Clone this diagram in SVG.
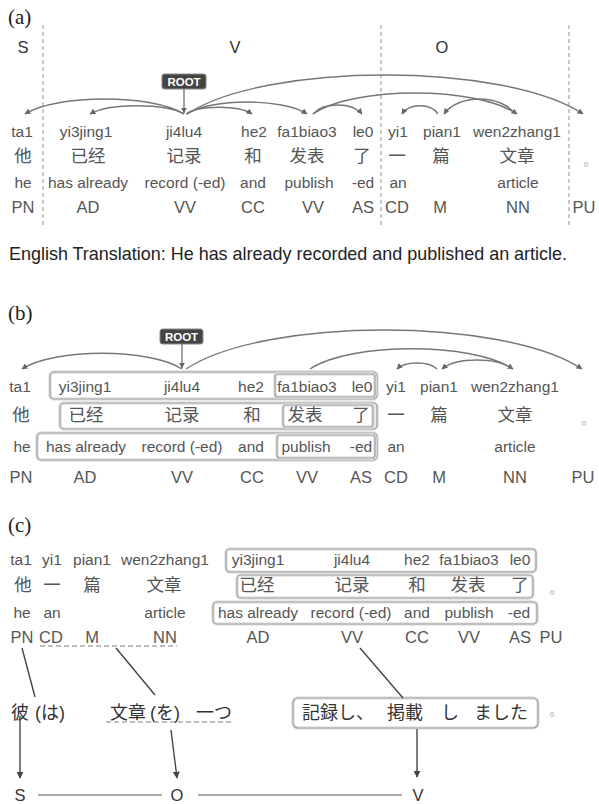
<svg xmlns="http://www.w3.org/2000/svg" width="599" height="804" viewBox="0 0 599 804">
  <style>
    text { font-family: "Liberation Sans", Arial, sans-serif; fill: #555; text-anchor: middle; }
    .cap { font-family: "Liberation Serif", "Times New Roman", serif; font-size: 21px; fill: #222; text-anchor: start; }
    .py { font-size: 15.5px; }
    .zh { font-family: "Noto Sans CJK SC", sans-serif; font-size: 17.5px; }
    .en { font-size: 15.5px; }
    .pos { font-size: 16.5px; }
    .svo { font-size: 16.5px; fill: #333; }
    .jp { font-family: "Noto Sans CJK JP", sans-serif; font-size: 18px; fill: #333; text-anchor: start; }
    .jpl { font-family: "Liberation Sans", "Noto Sans CJK JP", sans-serif; font-size: 18px; fill: #333; text-anchor: start; }
    .dot { font-family: "Noto Sans CJK SC", sans-serif; font-size: 13px; fill: #aaa; text-anchor: start; }
    .trans { font-size: 18.5px; fill: #222; text-anchor: start; }
    .root rect { fill: #444; stroke: #888; stroke-width: 1; }
    .root text { font-size: 11.5px; font-weight: bold; fill: #fff; }
    .arc { fill: none; stroke: #777; stroke-width: 1.4; marker-end: url(#head); }
    .sep { stroke: #bbb; stroke-width: 1.6; stroke-dasharray: 4 3; }
    .halo { fill: none; stroke: #e2e2e2; stroke-width: 3.5; }
    .box { fill: none; stroke: #a0a0a0; stroke-width: 1.2; }
    .link { stroke: #444; stroke-width: 1.4; fill: none; }
    .down { stroke: #444; stroke-width: 1.4; fill: none; marker-end: url(#head2); }
    .under { stroke: #aaa; stroke-width: 1.6; stroke-dasharray: 5 3; }
    .rule { stroke: #555; stroke-width: 1.2; }
  </style>
  <defs>
    <marker id="head" viewBox="0 0 10 10" refX="9" refY="5" markerWidth="6" markerHeight="6" markerUnits="userSpaceOnUse" orient="auto">
      <path d="M0,0 L10,5 L0,10 z" fill="#666"/>
    </marker>
    <marker id="head2" viewBox="0 0 10 10" refX="9" refY="5" markerWidth="7" markerHeight="7" markerUnits="userSpaceOnUse" orient="auto">
      <path d="M0,0 L10,5 L0,10 z" fill="#444"/>
    </marker>
  </defs>

  <!-- ============ (a) dependency parse with S / V / O spans ============ -->
  <g id="panel-a">
    <text class="cap" x="8" y="24">(a)</text>
    <g id="a-spans">
      <line class="sep" x1="43" y1="25" x2="43" y2="228"/>
      <line class="sep" x1="381" y1="25" x2="381" y2="228"/>
      <line class="sep" x1="569" y1="25" x2="569" y2="228"/>
      <text class="svo" x="23" y="53">S</text>
      <text class="svo" x="235" y="53">V</text>
      <text class="svo" x="442" y="53">O</text>
    </g>
    <g id="a-root" class="root">
      <rect x="162" y="74" width="44" height="15" rx="2.5"/>
      <text x="184" y="86">ROOT</text>
    </g>
    <g id="a-connectors">
      <path class="arc" d="M184,89 L184,113"/>
      <path class="arc" d="M184,114 C152,94 57,94 25,114"/>
      <path class="arc" d="M184,114 C165,103 109,103 90,114"/>
      <path class="arc" d="M186,114 C199,105 239,105 252,114"/>
      <path class="arc" d="M187,114 C211,98 283,98 307,114"/>
      <path class="arc" d="M187,114 C266,62 504,62 583,114"/>
      <path class="arc" d="M313,114 C323,102 352,102 362,114"/>
      <path class="arc" d="M313,114 C354,86 476,86 517,114"/>
      <path class="arc" d="M515,114 C501,94 458,94 444,114"/>
      <path class="arc" d="M438,114 C431,103 409,103 402,114"/>
    </g>
    <g id="a-ta1"><text class="py" x="22" y="137">ta1</text><text class="zh" x="23" y="162">他</text><text class="en" x="23" y="188">he</text><text class="pos" x="23" y="213">PN</text></g>
    <g id="a-yi3jing1"><text class="py" x="86" y="137">yi3jing1</text><text class="zh" x="88" y="162">已经</text><text class="en" x="88" y="188">has already</text><text class="pos" x="88" y="213">AD</text></g>
    <g id="a-ji4lu4"><text class="py" x="184" y="137">ji4lu4</text><text class="zh" x="184" y="162">记录</text><text class="en" x="185" y="188">record (-ed)</text><text class="pos" x="185" y="213">VV</text></g>
    <g id="a-he2"><text class="py" x="254" y="137">he2</text><text class="zh" x="253" y="162">和</text><text class="en" x="253" y="188">and</text><text class="pos" x="253" y="213">CC</text></g>
    <g id="a-fa1biao3"><text class="py" x="307" y="137">fa1biao3</text><text class="zh" x="307" y="162">发表</text><text class="en" x="309" y="188">publish</text><text class="pos" x="313" y="213">VV</text></g>
    <g id="a-le0"><text class="py" x="363" y="137">le0</text><text class="zh" x="362" y="162">了</text><text class="en" x="363" y="188">-ed</text><text class="pos" x="363" y="213">AS</text></g>
    <g id="a-yi1"><text class="py" x="398" y="137">yi1</text><text class="zh" x="397" y="162">一</text><text class="en" x="398" y="188">an</text><text class="pos" x="397" y="213">CD</text></g>
    <g id="a-pian1"><text class="py" x="442" y="137">pian1</text><text class="zh" x="441" y="162">篇</text><text class="pos" x="440" y="213">M</text></g>
    <g id="a-wen2zhang1"><text class="py" x="517" y="137">wen2zhang1</text><text class="zh" x="517" y="162">文章</text><text class="en" x="518" y="188">article</text><text class="pos" x="518" y="213">NN</text></g>
    <g id="a-period"><text class="dot" x="583.5" y="165">。</text><text class="pos" x="584" y="213">PU</text></g>
    <text class="trans" x="9" y="260" textLength="558" lengthAdjust="spacingAndGlyphs">English Translation: He has already recorded and published an article.</text>
  </g>

  <!-- ============ (b) same parse with the verb phrase grouped ============ -->
  <g id="panel-b">
    <text class="cap" x="8" y="320">(b)</text>
    <g id="b-groups">
      <rect class="halo" x="50" y="372" width="327" height="27" rx="4"/>
      <rect class="box" x="50" y="372" width="327" height="27" rx="4"/>
      <rect class="halo" x="275" y="374" width="100" height="23" rx="3"/>
      <rect class="box" x="275" y="374" width="100" height="23" rx="3"/>
      <rect class="halo" x="60" y="403" width="317" height="26" rx="4"/>
      <rect class="box" x="60" y="403" width="317" height="26" rx="4"/>
      <rect class="halo" x="283" y="405" width="90" height="22" rx="3"/>
      <rect class="box" x="283" y="405" width="90" height="22" rx="3"/>
      <rect class="halo" x="37" y="433" width="340" height="27" rx="4"/>
      <rect class="box" x="37" y="433" width="340" height="27" rx="4"/>
      <rect class="halo" x="277" y="435" width="98" height="23" rx="3"/>
      <rect class="box" x="277" y="435" width="98" height="23" rx="3"/>
    </g>
    <g id="b-root" class="root">
      <rect x="160" y="329" width="43" height="15" rx="2.5"/>
      <text x="181.5" y="341">ROOT</text>
    </g>
    <g id="b-connectors">
      <path class="arc" d="M182,344 L182,368"/>
      <path class="arc" d="M182,369 C150,348 54,348 22,369"/>
      <path class="arc" d="M186,369 C265,317 503,317 582,369"/>
      <path class="arc" d="M310,369 C351,342 472,342 513,369"/>
      <path class="arc" d="M512,369 C498,357 456,357 442,369"/>
      <path class="arc" d="M437,369 C429,361 405,361 397,369"/>
    </g>
    <g id="b-ta1"><text class="py" x="20" y="392">ta1</text><text class="zh" x="21" y="421">他</text><text class="en" x="22" y="452">he</text><text class="pos" x="21" y="483">PN</text></g>
    <g id="b-yi3jing1"><text class="py" x="85" y="392">yi3jing1</text><text class="zh" x="86" y="421">已经</text><text class="en" x="86" y="452">has already</text><text class="pos" x="85" y="483">AD</text></g>
    <g id="b-ji4lu4"><text class="py" x="182" y="392">ji4lu4</text><text class="zh" x="182" y="421">记录</text><text class="en" x="182" y="452">record (-ed)</text><text class="pos" x="182" y="483">VV</text></g>
    <g id="b-he2"><text class="py" x="251" y="392">he2</text><text class="zh" x="252" y="421">和</text><text class="en" x="251" y="452">and</text><text class="pos" x="252" y="483">CC</text></g>
    <g id="b-fa1biao3"><text class="py" x="307" y="392">fa1biao3</text><text class="zh" x="305" y="421">发表</text><text class="en" x="306" y="452">publish</text><text class="pos" x="307" y="483">VV</text></g>
    <g id="b-le0"><text class="py" x="362" y="392">le0</text><text class="zh" x="361" y="421">了</text><text class="en" x="361" y="452">-ed</text><text class="pos" x="361" y="483">AS</text></g>
    <g id="b-yi1"><text class="py" x="396" y="392">yi1</text><text class="zh" x="396" y="421">一</text><text class="en" x="396" y="452">an</text><text class="pos" x="396" y="483">CD</text></g>
    <g id="b-pian1"><text class="py" x="439" y="392">pian1</text><text class="zh" x="439" y="421">篇</text><text class="pos" x="439" y="483">M</text></g>
    <g id="b-wen2zhang1"><text class="py" x="515" y="392">wen2zhang1</text><text class="zh" x="515" y="421">文章</text><text class="en" x="515" y="452">article</text><text class="pos" x="515" y="483">NN</text></g>
    <g id="b-period"><text class="dot" x="581.5" y="424">。</text><text class="pos" x="583" y="483">PU</text></g>
  </g>

  <!-- ============ (c) reordered to S O V and aligned with Japanese ============ -->
  <g id="panel-c">
    <text class="cap" x="8" y="532">(c)</text>
    <g id="c-groups">
      <rect class="halo" x="226" y="549" width="310" height="23" rx="4"/>
      <rect class="box" x="226" y="549" width="310" height="23" rx="4"/>
      <rect class="halo" x="237" y="575" width="296" height="23" rx="4"/>
      <rect class="box" x="237" y="575" width="296" height="23" rx="4"/>
      <rect class="halo" x="213" y="602" width="324" height="22" rx="4"/>
      <rect class="box" x="213" y="602" width="324" height="22" rx="4"/>
    </g>
    <g id="c-ta1"><text class="py" x="21" y="565">ta1</text><text class="zh" x="23" y="591">他</text><text class="en" x="22" y="618">he</text><text class="pos" x="22" y="643">PN</text></g>
    <g id="c-yi1"><text class="py" x="52" y="565">yi1</text><text class="zh" x="52" y="591">一</text><text class="en" x="52" y="618">an</text><text class="pos" x="51" y="643">CD</text></g>
    <g id="c-pian1"><text class="py" x="92" y="565">pian1</text><text class="zh" x="92" y="591">篇</text><text class="pos" x="92" y="643">M</text></g>
    <g id="c-wen2zhang1"><text class="py" x="165" y="565">wen2zhang1</text><text class="zh" x="164" y="591">文章</text><text class="en" x="165" y="618">article</text><text class="pos" x="165" y="643">NN</text></g>
    <g id="c-yi3jing1"><text class="py" x="258" y="565">yi3jing1</text><text class="zh" x="257" y="591">已经</text><text class="en" x="258" y="618">has already</text><text class="pos" x="258" y="643">AD</text></g>
    <g id="c-ji4lu4"><text class="py" x="352" y="565">ji4lu4</text><text class="zh" x="352" y="591">记录</text><text class="en" x="351" y="618">record (-ed)</text><text class="pos" x="352" y="643">VV</text></g>
    <g id="c-he2"><text class="py" x="417" y="565">he2</text><text class="zh" x="417" y="591">和</text><text class="en" x="417" y="618">and</text><text class="pos" x="417" y="643">CC</text></g>
    <g id="c-fa1biao3"><text class="py" x="469" y="565">fa1biao3</text><text class="zh" x="468" y="591">发表</text><text class="en" x="469" y="618">publish</text><text class="pos" x="469" y="643">VV</text></g>
    <g id="c-le0"><text class="py" x="520" y="565">le0</text><text class="zh" x="520" y="591">了</text><text class="en" x="519" y="618">-ed</text><text class="pos" x="520" y="643">AS</text></g>
    <g id="c-period"><text class="dot" x="549.5" y="593">。</text><text class="pos" x="551" y="643">PU</text></g>
    <line class="under" x1="40" y1="646" x2="177" y2="646"/>

    <!-- Japanese rendering -->
    <g id="c-kare">
      <text class="jp" x="11" y="719">彼</text>
      <text class="jpl" x="35" y="719">(は)</text>
    </g>
    <g id="c-bunshou">
      <text class="jp" x="110" y="719">文章</text>
      <text class="jpl" x="150" y="719">(を)</text>
      <text class="jp" x="196" y="719">一つ</text>
      <line class="under" x1="106" y1="722" x2="233" y2="722"/>
    </g>
    <g id="c-verb">
      <rect class="halo" x="293" y="698" width="245" height="30" rx="5"/>
      <rect class="box" x="293" y="698" width="245" height="30" rx="5"/>
      <text class="jp" x="302" y="719">記録し、</text>
      <text class="jp" x="387" y="719">掲載</text>
      <text class="jp" x="441" y="719">し</text>
      <text class="jp" x="474" y="719">ました</text>
      <text class="dot" x="549.5" y="715">。</text>
    </g>

    <!-- S / O / V roles -->
    <g id="c-S"><text class="svo" x="20" y="801">S</text></g>
    <g id="c-O"><text class="svo" x="177" y="801">O</text></g>
    <g id="c-V"><text class="svo" x="418" y="801">V</text></g>

    <g id="c-connectors">
      <line class="link" x1="22" y1="648" x2="35" y2="697"/>
      <line class="link" x1="116" y1="648" x2="155" y2="695"/>
      <line class="link" x1="360" y1="648" x2="403" y2="698"/>
      <path class="down" d="M20,716 L20,778"/>
      <path class="down" d="M171,730 L177,778"/>
      <path class="down" d="M417,729 L417,777"/>
      <line class="rule" x1="38" y1="795" x2="162" y2="795"/>
      <line class="rule" x1="198" y1="795" x2="402" y2="795"/>
    </g>
  </g>
</svg>
